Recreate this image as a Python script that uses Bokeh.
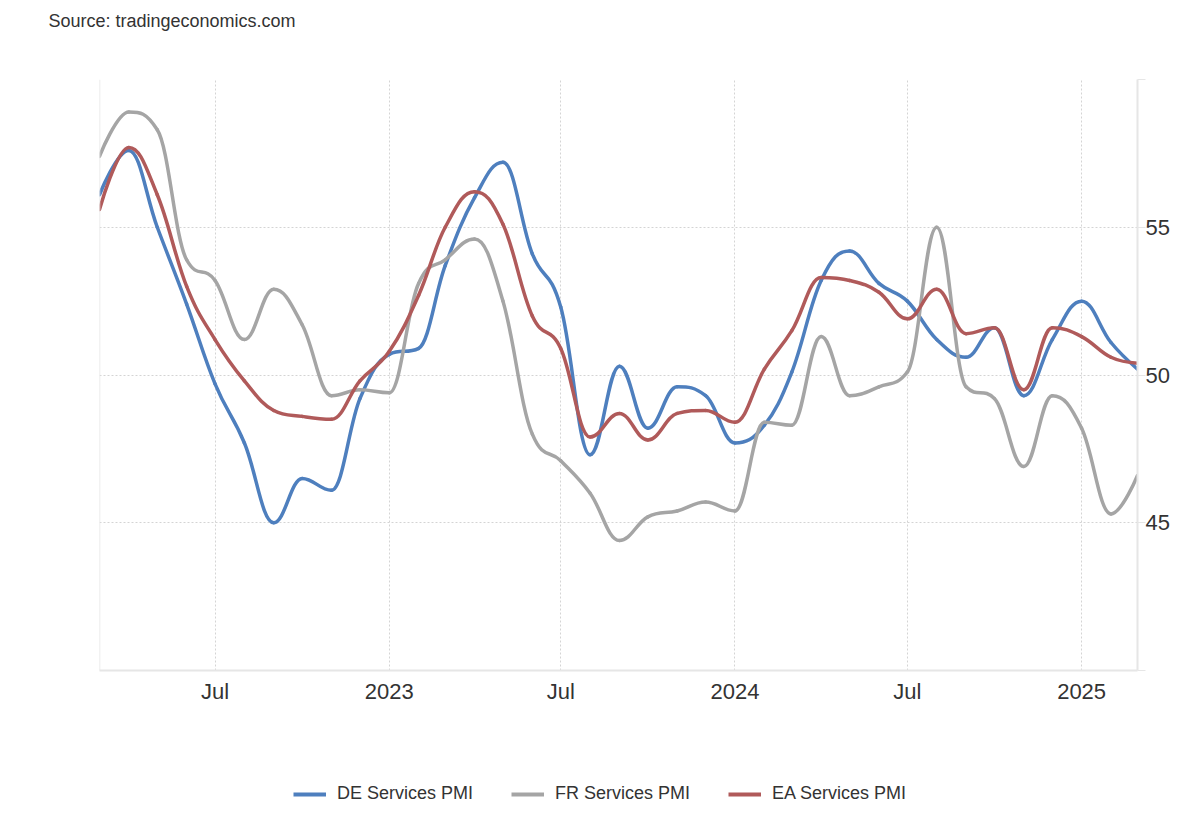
import numpy as np
from bokeh.plotting import figure
from bokeh.layouts import column
from bokeh.models import FixedTicker, Legend, LegendItem, Range1d, Span
from bokeh.embed import file_html
from bokeh.resources import INLINE

# monthly readings, Mar 2022 .. Mar 2025
months = np.arange("2022-03", "2025-04", dtype="datetime64[M]")
de_services = [56.1, 57.6, 55.0, 52.4, 49.7, 47.7, 45.0, 46.5, 46.1, 49.2, 50.7, 50.9,
               53.7, 56.0, 57.2, 54.1, 52.3, 47.3, 50.3, 48.2, 49.6, 49.3, 47.7, 48.3,
               50.1, 53.2, 54.2, 53.1, 52.5, 51.2, 50.6, 51.6, 49.3, 51.2, 52.5, 51.1, 50.2]
fr_services = [57.4, 58.9, 58.3, 53.9, 53.2, 51.2, 52.9, 51.7, 49.3, 49.5, 49.4, 53.1,
               53.9, 54.6, 52.5, 48.0, 47.1, 46.0, 44.4, 45.2, 45.4, 45.7, 45.4, 48.4,
               48.3, 51.3, 49.3, 49.6, 50.1, 55.0, 49.6, 49.2, 46.9, 49.3, 48.2, 45.3, 46.6]
ea_services = [55.6, 57.7, 56.1, 53.0, 51.2, 49.8, 48.8, 48.6, 48.5, 49.8, 50.8, 52.7,
               55.0, 56.2, 55.1, 52.0, 50.9, 47.9, 48.7, 47.8, 48.7, 48.8, 48.4, 50.2,
               51.5, 53.3, 53.2, 52.8, 51.9, 52.9, 51.4, 51.6, 49.5, 51.6, 51.3, 50.6, 50.4]
series_names = ["DE Services PMI", "FR Services PMI", "EA Services PMI"]
series_colors = ["#4e7fbe", "#a5a5a5", "#b05a5a"]

x_ticks = ["2022-07", "2023-01", "2023-07", "2024-01", "2024-07", "2025-01"]
x_tick_labels = ["Jul", "2023", "Jul", "2024", "Jul", "2025"]
y_ticks = [40, 45, 50, 55, 60]
y_tick_labels = ["", "45", "50", "55", ""]

FONT = "Liberation Sans"
W = 1184


def to_ms(d):
    return np.array(d, dtype="datetime64[M]").astype("datetime64[ms]").astype(np.int64).tolist()


def spline_segments(xs, ys, smoothing=1.5):
    # highcharts style spline: one cubic bezier between each pair of points
    n = len(xs)
    left = [(xs[i], ys[i]) for i in range(n)]
    right = list(left)
    denom = smoothing + 1
    for i in range(1, n - 1):
        lx, ly = xs[i - 1], ys[i - 1]
        px, py = xs[i], ys[i]
        nx, ny = xs[i + 1], ys[i + 1]
        lcx = (smoothing * px + lx) / denom
        lcy = (smoothing * py + ly) / denom
        rcx = (smoothing * px + nx) / denom
        rcy = (smoothing * py + ny) / denom
        if rcx != lcx:
            corr = (rcy - lcy) * (rcx - px) / (rcx - lcx) + py - rcy
            lcy += corr
            rcy += corr
        if lcy > ly and lcy > py:
            lcy = max(ly, py)
            rcy = 2 * py - lcy
        elif lcy < ly and lcy < py:
            lcy = min(ly, py)
            rcy = 2 * py - lcy
        if rcy > ny and rcy > py:
            rcy = max(ny, py)
            lcy = 2 * py - rcy
        elif rcy < ny and rcy < py:
            rcy = min(ny, py)
            lcy = 2 * py - rcy
        left[i] = (lcx, lcy)
        right[i] = (rcx, rcy)
    return dict(
        x0=xs[:-1], y0=ys[:-1], x1=xs[1:], y1=ys[1:],
        cx0=[c[0] for c in right[:-1]], cy0=[c[1] for c in right[:-1]],
        cx1=[c[0] for c in left[1:]], cy1=[c[1] for c in left[1:]],
    )


def blank_fig(height, title=None, **kw):
    f = figure(width=W, height=height, x_range=Range1d(0, 1), y_range=Range1d(0, 1),
               x_axis_type=None, y_axis_type=None, title=title,
               output_backend="svg", toolbar_location=None, min_border=0, **kw)
    f.outline_line_color = None
    f.grid.visible = False
    return f


xs = to_ms(months)

# source line on top (frame is aligned with the chart below, so shift the title left)
head = blank_fig(40, title="Source: tradingeconomics.com", min_border_top=30)
head.title.align = "left"
head.title.offset = -51
head.title.standoff = 0
head.title.text_font = FONT
head.title.text_font_size = "18px"
head.title.text_font_style = "normal"
head.title.text_color = "#333333"

# main chart
p = figure(width=W, height=700, x_axis_type="datetime", y_axis_location="right",
           x_range=Range1d(xs[0], xs[-1]), y_range=Range1d(40, 60), title=None,
           output_backend="svg", toolbar_location=None,
           min_border_left=99, min_border_right=47, min_border_top=39, min_border_bottom=70)
p.outline_line_color = None

xt = to_ms(x_ticks)
p.xaxis.ticker = FixedTicker(ticks=xt)
p.xaxis.major_label_overrides = dict(zip(xt, x_tick_labels))
p.xaxis.axis_line_color = "#e6e6e6"
p.xaxis.axis_line_width = 2
p.xaxis.major_tick_line_color = None
p.xaxis.major_tick_out = 0
p.xaxis.minor_tick_line_color = None
p.xaxis.minor_tick_out = 0
p.xaxis.major_label_standoff = 8

p.yaxis.ticker = FixedTicker(ticks=y_ticks)
p.yaxis.major_label_overrides = dict(zip(y_ticks, y_tick_labels))
p.yaxis.axis_line_color = "#e6e6e6"
p.yaxis.axis_line_width = 2
p.yaxis.major_tick_line_color = "#e6e6e6"
p.yaxis.major_tick_in = 0
p.yaxis.major_tick_out = 8
p.yaxis.minor_tick_line_color = None
p.yaxis.major_label_standoff = 0

for ax in (p.xaxis, p.yaxis):
    ax.major_label_text_font = FONT
    ax.major_label_text_font_size = "22px"
    ax.major_label_text_color = "#333333"

p.xgrid.ticker = FixedTicker(ticks=xt)
p.ygrid.ticker = FixedTicker(ticks=[45, 50, 55, 60])
for g in (p.xgrid, p.ygrid):
    g.grid_line_color = "#d4d4d4"
    g.grid_line_dash = "2 2"
    g.grid_line_width = 1

p.add_layout(Span(location=xs[0], dimension="height", line_color="#e6e6e6", line_width=1.5))

for vals, color in zip([de_services, fr_services, ea_services], series_colors):
    seg = spline_segments([float(v) for v in xs], [float(v) for v in vals])
    p.bezier(source=seg, x0="x0", y0="y0", x1="x1", y1="y1",
             cx0="cx0", cy0="cy0", cx1="cx1", cy1="cy1",
             line_color=color, line_width=3.5, line_cap="round")

# legend strip at the bottom; the key lines sit outside the strip's range
foot = blank_fig(64)
items = []
for name, color in zip(series_names, series_colors):
    key = foot.line(x=[-2, -1], y=[-2, -2], line_color=color, line_width=4)
    items.append(LegendItem(label=name, renderers=[key]))
legend = Legend(items=items, location=(194, 0), orientation="horizontal",
                spacing=38, label_standoff=11, glyph_width=33, glyph_height=20,
                label_height=20, padding=0, margin=0,
                background_fill_alpha=0, border_line_color=None,
                label_text_font=FONT, label_text_font_size="18px",
                label_text_color="#333333")
foot.add_layout(legend)

page = column(head, p, foot, spacing=0)
open("out.html", "w").write(file_html(page, INLINE))
